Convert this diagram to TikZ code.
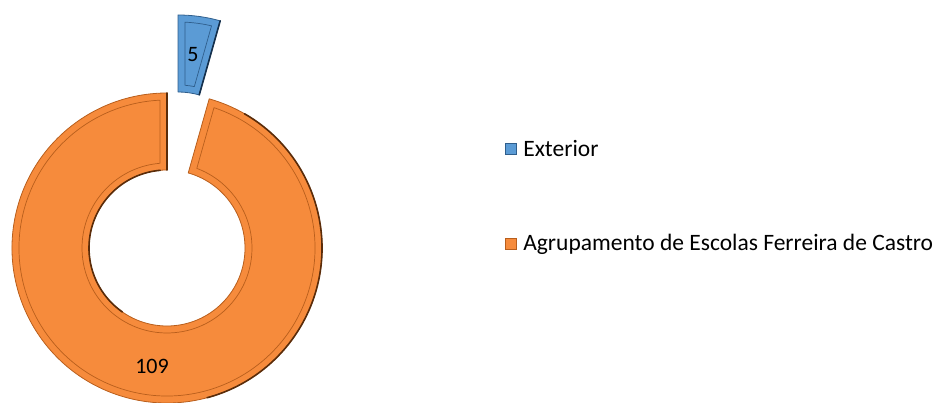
\documentclass[tikz,border=0pt]{standalone}
\usepackage{fontspec}
\setmainfont{Carlito}
\usetikzlibrary{positioning}
\definecolor{SliceOrange}{HTML}{F68B3C}
\definecolor{EdgeOrange}{HTML}{B85E1C}
\definecolor{DarkOrange}{HTML}{5A2C0A}
\definecolor{SliceBlue}{HTML}{5B9BD5}
\definecolor{EdgeBlue}{HTML}{2F5E8C}
\definecolor{DarkBlue}{HTML}{15304C}

\begin{document}
\begin{tikzpicture}[x=1pt, y=1pt,
    slice/.style={line width=0.8pt, line join=round},
    bevel/.style={line width=0.7pt, line join=round},
    rim/.style={line width=1.6pt, line cap=round},
    numlabel/.style={font=\fontsize{22}{26}\selectfont, text=black, inner sep=0pt},
    legkey/.style={rectangle, minimum size=11pt, inner sep=0pt, line width=1.2pt},
    legtext/.style={font=\fontsize{23.5}{28}\selectfont, inner sep=0pt, anchor=west}]
    \useasboundingbox (0,0) rectangle (936,403);

    % Orange slice (109)
    \begin{scope}[shift={(167,155)}]
        \fill[SliceOrange, draw=EdgeOrange, slice] (74.2:155) arc[start angle=74.2, end angle=-270, radius=155]
            -- (90:78) arc[start angle=90, end angle=434.2, radius=78] -- cycle;
        \draw[EdgeOrange, bevel] (71.49:148) arc[start angle=71.49, end angle=-267.29, radius=148]
            -- (94.72:85) arc[start angle=94.72, end angle=429.48, radius=85] -- cycle;
        \draw[DarkOrange, rim] (60:155) arc[start angle=60, end angle=-75, radius=155];
        \draw[DarkOrange, rim] (95:78) arc[start angle=95, end angle=235, radius=78];
        \draw[DarkOrange, rim] (90:155) -- (90:78);
    \end{scope}

    % Blue slice (5), pulled out
    \begin{scope}[shift={(178,233)}]
        \fill[SliceBlue, draw=EdgeBlue, slice] (74.2:155) arc[start angle=74.2, end angle=90, radius=155]
            -- (90:78) arc[start angle=90, end angle=74.2, radius=78] -- cycle;
        \draw[EdgeBlue, bevel] (76.91:148) arc[start angle=76.91, end angle=87.29, radius=148]
            -- (85.28:85) arc[start angle=85.28, end angle=78.92, radius=85] -- cycle;
        \draw[DarkBlue, rim] (74.2:155) -- (74.2:78);
    \end{scope}

    % Values
    \node[numlabel] (v5) at (193,348) {5};
    \node[numlabel] (v109) at (152,37) {109};

    % Legend
    \node[legkey, fill=SliceBlue, draw=EdgeBlue] (k1) at (511,254) {};
    \node[legtext, right=6pt of k1] (t1) {Exterior};
    \node[legkey, fill=SliceOrange, draw=EdgeOrange] (k2) at (511,159) {};
    \node[legtext, right=6pt of k2] (t2) {Agrupamento de Escolas Ferreira de Castro};
\end{tikzpicture}
\end{document}
